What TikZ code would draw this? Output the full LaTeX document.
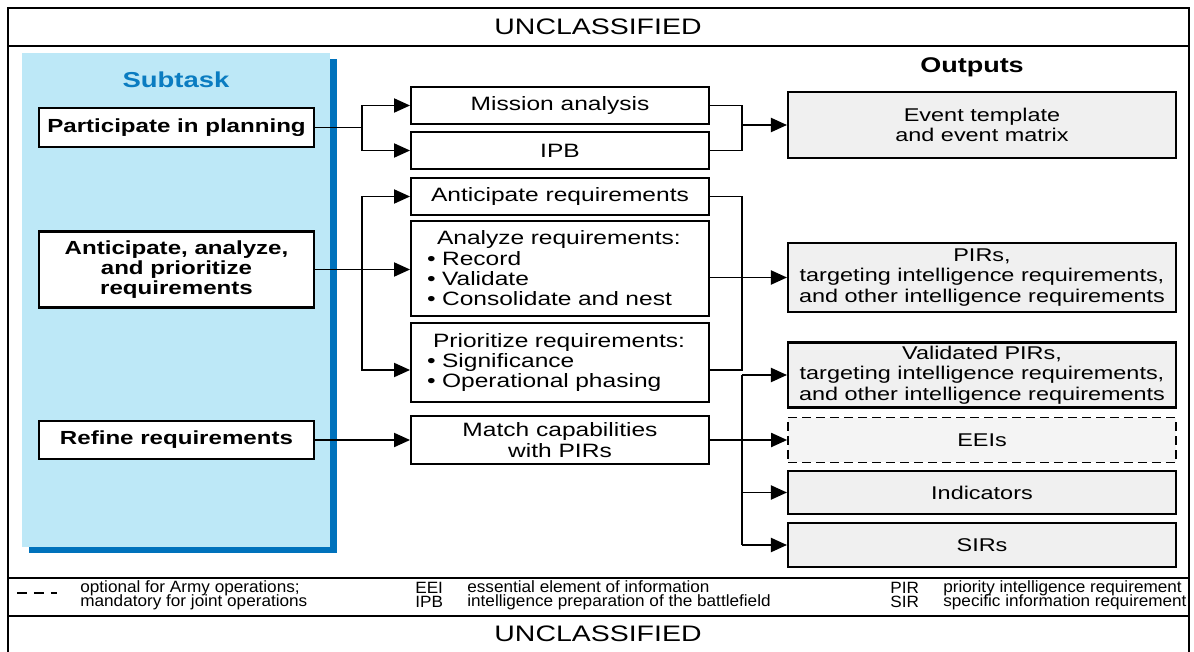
\documentclass[tikz,border=0pt]{standalone}
\usepackage{fontspec}
\setmainfont[FakeStretch=1.27]{Liberation Sans}
\newfontfamily\legfont[FakeStretch=1.05]{Liberation Sans}
\usetikzlibrary{arrows.meta}
\definecolor{panelblue}{HTML}{BDE8F7}
\definecolor{shadeblue}{HTML}{0072BC}
\definecolor{titleblue}{HTML}{0A7CC1}
\definecolor{outgray}{HTML}{F0F0F0}
\newcommand\tightlines{\setlength{\lineskiplimit}{-20pt}}
\tikzset{
  taskbox/.style={draw,line width=1.2pt,fill=white,minimum width=5.5cm,inner sep=0pt,
    align=center,font=\fontsize{10.8}{11.3}\selectfont\tightlines\bfseries},
  midbox/.style={draw,line width=1.1pt,fill=white,minimum width=5.96cm,inner sep=0pt,
    align=center,font=\fontsize{11}{11.6}\selectfont\tightlines},
  listbox/.style={midbox,align=left,text width=5.32cm,inner xsep=0.32cm},
  outbox/.style={draw,line width=1.2pt,fill=outgray,minimum width=7.76cm,inner sep=0pt,
    align=center,font=\fontsize{10.5}{11.6}\selectfont\tightlines},
  conn/.style={line width=1.1pt},
  arr/.style={conn,-{Triangle[length=0.32cm,width=0.28cm]}},
  legtext/.style={anchor=west,inner sep=0pt,align=left,
    font=\legfont\fontsize{9.3}{7.8}\selectfont\tightlines}
}
\begin{document}
\begin{tikzpicture}[x=0.02cm,y=-0.02cm]
\useasboundingbox (0,0) rectangle (1194,652);
\draw[line width=1.2pt] (8,652) -- (8,8) -- (1189,8) -- (1189,652);
\draw[line width=1.2pt] (8,46) -- (1189,46) (8,578) -- (1189,578) (8,616) -- (1189,616);
\node[font=\fontsize{12.75}{14}\selectfont] (topmark) at (598,27) {UNCLASSIFIED};
\node[font=\fontsize{12.75}{14}\selectfont] (botmark) at (598,634) {UNCLASSIFIED};

\fill[shadeblue] (29,59) rectangle (337,553);
\fill[panelblue] (22,53) rectangle (330,547);
\node[font=\fontsize{12.3}{14}\selectfont\bfseries,text=titleblue] (subtask) at (176,80) {Subtask};
\node[font=\fontsize{12.1}{14}\selectfont\bfseries] (outputs) at (972,67) {Outputs};

\node[taskbox,minimum height=0.78cm] (plan) at (176.5,127.5) {Participate in planning};
\node[taskbox,minimum height=1.52cm] (antic) at (176.5,269.5) {Anticipate, analyze,\\and prioritize\\requirements};
\node[taskbox,minimum height=0.76cm] (refine) at (176.5,440) {Refine requirements};

\node[midbox,minimum height=0.74cm] (mission) at (560,105.5) {Mission analysis};
\node[midbox,minimum height=0.74cm] (ipb) at (560,150.5) {IPB};
\node[midbox,minimum height=0.74cm] (antreq) at (560,196.5) {Anticipate requirements};
\node[listbox,minimum height=1.9cm] (analyze) at (560,268.5)
  {\hspace*{0.2cm}Analyze requirements:\\• Record\\• Validate\\• Consolidate and nest};
\node[listbox,minimum height=1.58cm] (prio) at (560,362.5)
  {\hspace*{0.12cm}Prioritize requirements:\\• Significance\\• Operational phasing};
\node[midbox,minimum height=0.96cm] (match) at (560,440) {Match capabilities\\with PIRs};

\node[outbox,minimum height=1.32cm] (event) at (982,125) {Event template\\and event matrix};
\node[outbox,minimum height=1.38cm] (pirs) at (982,277.5) {PIRs,\\targeting intelligence requirements,\\and other intelligence requirements};
\node[outbox,minimum height=1.3cm] (valid) at (982,375) {Validated PIRs,\\targeting intelligence requirements,\\and other intelligence requirements};
\node[outbox,minimum height=0.9cm,line width=1pt,fill=outgray!70,dash pattern=on 0.18cm off 0.1cm] (eei) at (982,440) {EEIs};
\node[outbox,minimum height=0.86cm] (ind) at (982,492.5) {Indicators};
\node[outbox,minimum height=0.88cm] (sirs) at (982,545) {SIRs};

\coordinate (lbus) at (362,0);
\coordinate (rbus) at (742,0);
\coordinate (pline) at ([yshift=-0.15cm]prio.east);
\coordinate (pin) at ([yshift=-0.15cm]prio.west);

\draw[conn] (plan.east) -- (plan -| lbus);
\draw[arr] (plan -| lbus) |- (mission.west);
\draw[arr] (plan -| lbus) |- (ipb.west);
\draw[conn] (mission.east) -| (rbus |- event) |- (ipb.east);
\draw[arr] (rbus |- event) -- (event.west);

\draw[arr] (antic.east) -- (analyze.west |- antic);
\draw[arr] (antic -| lbus) |- (antreq.west);
\draw[arr] (antic -| lbus) |- (pin);
\draw[conn] (antreq.east) -| (rbus |- pline) -- (pline);
\draw[arr] (analyze.east |- pirs) -- (pirs.west);

\draw[arr] (refine.east) -- (match.west);
\draw[arr] (match.east) -- (eei.west);
\draw[conn] (rbus |- valid) -- (rbus |- sirs);
\draw[arr] (rbus |- valid) -- (valid.west);
\draw[arr] (rbus |- ind) -- (ind.west);
\draw[arr] (rbus |- sirs) -- (sirs.west);

\draw[line width=1pt,dash pattern=on 0.2cm off 0.14cm] (17,593) -- (57,593);
\node[legtext] (optdef) at (80,595) {optional for Army operations;\\mandatory for joint operations};
\node[legtext] (abbr1) at (415,595) {EEI\\IPB};
\node[legtext] (def1) at (467,595) {essential element of information\\intelligence preparation of the battlefield};
\node[legtext] (abbr2) at (890,595) {PIR\\SIR};
\node[legtext] (def2) at (943,595) {priority intelligence requirement\\specific information requirement};
\end{tikzpicture}
\end{document}
